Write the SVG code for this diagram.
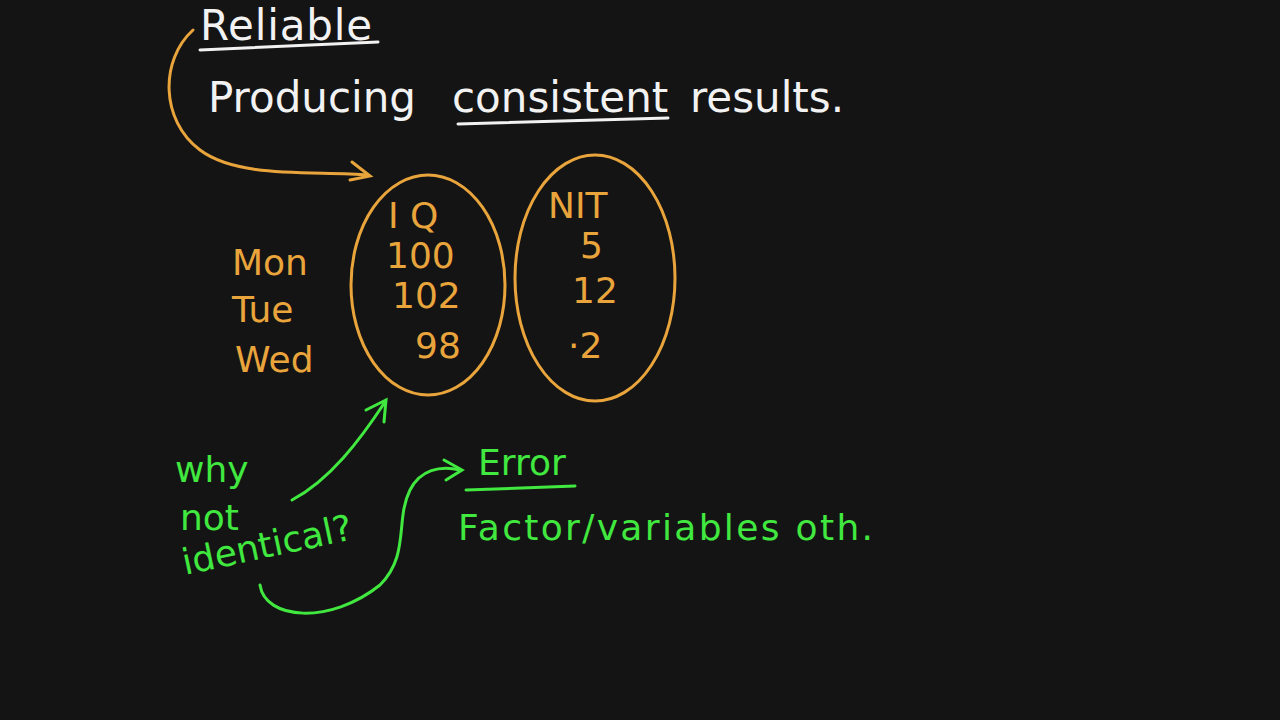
<svg xmlns="http://www.w3.org/2000/svg" width="1280" height="720" viewBox="0 0 1280 720">
<defs>
<style>
.w{fill:#f2f2f2;font-family:"DejaVu Sans",sans-serif;font-size:42px}
.o{fill:#e9a53c;font-family:"DejaVu Sans",sans-serif;font-size:36px}
.g{fill:#41e83f;font-family:"DejaVu Sans",sans-serif;font-size:36px}
.os{fill:none;stroke:#e9a53c;stroke-width:3;stroke-linecap:round}
.gs{fill:none;stroke:#41e83f;stroke-width:3;stroke-linecap:round}
.ws{fill:none;stroke:#f2f2f2;stroke-width:3;stroke-linecap:round}
</style>
</defs>
<rect width="1280" height="720" fill="#141414"/>
<g id="title">
<text class="w" x="200" y="40" font-size="38" textLength="172">Reliable</text>
<path class="ws" d="M200 50 L378 42"/>
<text class="w" x="208" y="112">Producing <tspan x="452">consistent</tspan> <tspan x="690">results.</tspan></text>
<path class="ws" d="M458 124 L668 118"/>
</g>
<g id="iq">
<ellipse class="os" cx="428" cy="285" rx="77" ry="110"/>
<text class="o" x="388" y="228" font-size="42">I Q</text>
<text class="o" x="386" y="268">100</text>
<text class="o" x="392" y="308">102</text>
<text class="o" x="415" y="358">98</text>
</g>
<g id="nit">
<ellipse class="os" cx="595" cy="278" rx="80" ry="123"/>
<text class="o" x="548" y="218" font-size="42">NIT</text>
<text class="o" x="580" y="258">5</text>
<text class="o" x="572" y="303">12</text>
<text class="o" x="568" y="358">·2</text>
</g>
<g id="days">
<text class="o" x="232" y="275">Mon</text>
<text class="o" x="232" y="322">Tue</text>
<text class="o" x="235" y="372">Wed</text>
</g>
<g id="notes">
<text class="g" x="175" y="482">why</text>
<text class="g" x="180" y="530">not</text>
<text class="g" x="185" y="575" transform="rotate(-12 185 575)">identical?</text>
<text class="g" x="478" y="475" font-size="40">Error</text>
<path class="gs" d="M466 490 L575 486"/>
<text class="g" x="458" y="540" textLength="415">Factor/variables oth.</text>
</g>
<g id="connectors">
<path class="os" d="M193 30 C160 60 160 120 200 150 C240 180 320 170 368 175"/>
<path class="os" d="M352 162 L370 176 L350 180"/>
<path class="gs" d="M292 500 C330 480 360 440 385 402"/>
<path class="gs" d="M366 410 L386 400 L384 422"/>
<path class="gs" d="M260 585 C265 620 330 625 380 585 C410 555 395 520 410 490 C420 470 440 465 460 470"/>
<path class="gs" d="M444 460 L462 470 L446 480"/>
</g>
</svg>
